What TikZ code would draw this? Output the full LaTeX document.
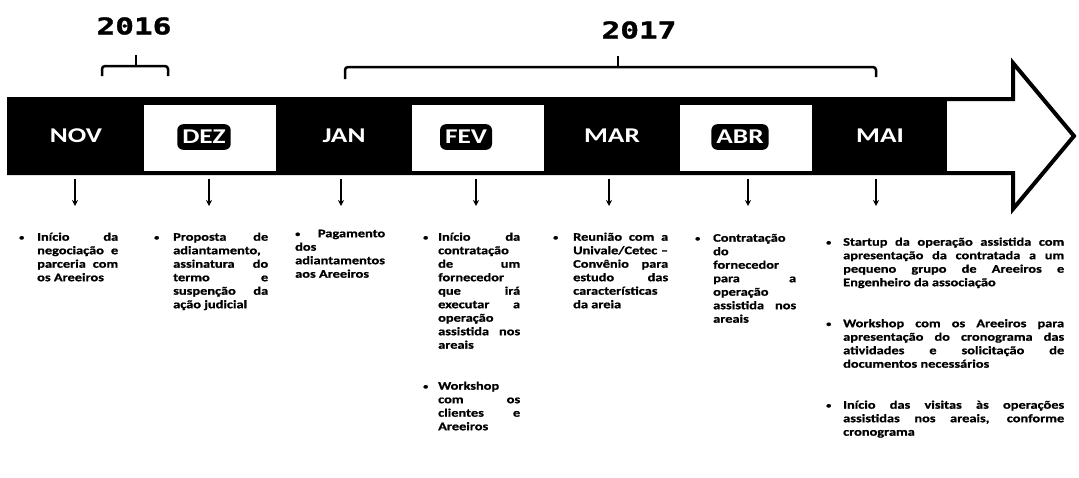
\documentclass[tikz,border=0pt]{standalone}
\usepackage{fontspec}
\setmainfont{Carlito}
\newfontfamily\bodyfont[FakeStretch=1.25,FakeBold=1]{Carlito}
\newfontfamily\monthfont[FakeStretch=1.3]{Carlito}
\newfontfamily\yearfont[FakeStretch=1.35,FakeBold=1.5]{DejaVu Sans Mono}
\usetikzlibrary{arrows.meta}
\newcommand{\bul}{\raisebox{0.6pt}{\scalebox{0.7}{\textbullet}}}
\newcommand{\bp}[3]{\par\noindent\hbox to #1{\rule{0pt}{10pt}\bul\hfil}\parbox[t]{#2}{\rule{0pt}{10pt}\ignorespaces#3\rule[-3.5pt]{0pt}{3.5pt}}}
\newcommand{\pgap}{\par\vspace{26.5pt}}
\hbadness=10000 \hfuzz=20pt
\begin{document}
\begin{tikzpicture}[x=1pt,y=-1pt,
  bseg/.style={rectangle,fill=black,minimum width=134pt,minimum height=78pt,inner sep=0pt,text=white,font=\monthfont\bfseries\fontsize{21}{21}\selectfont},
  wseg/.style={rectangle,fill=white,minimum width=132pt,minimum height=66pt,inner sep=0pt},
  badge/.style={rectangle,rounded corners=6pt,fill=black,text=white,inner xsep=5pt,inner ysep=6pt,font=\monthfont\bfseries\fontsize{21}{21}\selectfont},
  col/.style={anchor=north west,inner sep=0pt,align=justify,font=\bodyfont\bfseries\fontsize{11.5}{13.5}\selectfont},
  darrow/.style={line width=1.8pt,-{Stealth[length=6pt,width=6pt]}},
  yr/.style={font=\yearfont\bfseries\fontsize{23}{23}\selectfont},
  brk/.style={line width=2.5pt,rounded corners=3pt}
]
\useasboundingbox (0,0) rectangle (1079,477);

% years and brackets
\node[yr] (y16) at (134,26) {2016};
\node[yr] (y17) at (639,30) {2017};
\draw[brk] (102,76) -- (102,66) -- (168,66) -- (168,76);
\draw[line width=2.5pt] (136,66) -- (136,55);
\draw[brk] (345,79) -- (345,67) -- (876,67) -- (876,77);
\draw[line width=2.5pt] (618,67) -- (618,56);

% arrow outline
\draw[line width=4pt,fill=white,line join=miter] (9,99) -- (1013,99) -- (1013,63) -- (1074,136) -- (1013,209) -- (1013,173) -- (9,173) -- cycle;

% month segments
\node[bseg] (nov) at (76,136) {NOV};
\node[bseg] (dez) at (210,136) {};
\node[wseg] (dezw) at (210,137.5) {};
\node[badge] (dezl) at (204,137) {DEZ};
\node[bseg] (jan) at (344,136) {JAN};
\node[bseg] (fev) at (478,136) {};
\node[wseg] (fevw) at (478,137.5) {};
\node[badge] (fevl) at (466,137) {FEV};
\node[bseg] (mar) at (612,136) {MAR};
\node[bseg] (abr) at (746,136) {};
\node[wseg] (abrw) at (746,137.5) {};
\node[badge] (abrl) at (740,137) {ABR};
\node[bseg] (mai) at (880,136) {MAI};

% arrow ends
\coordinate (anov) at (75,206);
\coordinate (adez) at (209,206);
\coordinate (ajan) at (341,206);
\coordinate (afev) at (476,206);
\coordinate (amar) at (609,206);
\coordinate (aabr) at (748,206);
\coordinate (amai) at (876,206);
\draw[darrow] ([yshift=-4pt]nov.south -| anov) -- (anov);
\draw[darrow] ([yshift=-4pt]dez.south -| adez) -- (adez);
\draw[darrow] ([yshift=-4pt]jan.south -| ajan) -- (ajan);
\draw[darrow] ([yshift=-4pt]fev.south -| afev) -- (afev);
\draw[darrow] ([yshift=-4pt]mar.south -| amar) -- (amar);
\draw[darrow] ([yshift=-4pt]abr.south -| aabr) -- (aabr);
\draw[darrow] ([yshift=-4pt]mai.south -| amai) -- (amai);

% text columns
\node[col,text width=99pt] (tnov) at (19,227) {\bp{18pt}{81pt}{Início da\linebreak negociação e\linebreak parceria com\linebreak os Areeiros}};
\node[col,text width=114pt] (tdez) at (154,227) {\bp{19pt}{95pt}{Proposta de\linebreak adiantamento,\linebreak assinatura do\linebreak termo e\linebreak suspenção da\linebreak ação judicial}};
\node[col,text width=90pt] (tjan) at (295,227) {\noindent\rule{0pt}{10pt}\bul\ Pagamento\linebreak dos\linebreak adiantamentos\linebreak aos Areeiros};
\node[col,text width=97pt] (tfev) at (423,227) {\bp{15pt}{82pt}{Início da\linebreak contratação\linebreak de um\linebreak fornecedor\linebreak que irá\linebreak executar a\linebreak operação\linebreak assistida nos\linebreak areais}\pgap\bp{15pt}{82pt}{Workshop\linebreak com os\linebreak clientes e\linebreak Areeiros}};
\node[col,text width=115pt] (tmar) at (553,227) {\bp{20pt}{95pt}{Reunião com a\linebreak Univale/Cetec –\linebreak Convênio para\linebreak estudo das\linebreak características\linebreak da areia}};
\node[col,text width=101pt] (tabr) at (695,228) {\bp{18pt}{83pt}{Contratação\linebreak do\linebreak fornecedor\linebreak para a\linebreak operação\linebreak assistida nos\linebreak areais}};
\node[col,text width=238pt] (tmai) at (826,232) {\bp{17pt}{221pt}{Startup da operação assistida com\linebreak apresentação da contratada a um\linebreak pequeno grupo de Areeiros e\linebreak Engenheiro da associação}\pgap\bp{17pt}{221pt}{Workshop com os Areeiros para\linebreak apresentação do cronograma das\linebreak atividades e solicitação de\linebreak documentos necessários}\pgap\bp{17pt}{221pt}{Início das visitas às operações\linebreak assistidas nos areais, conforme\linebreak cronograma}};
\end{tikzpicture}
\end{document}
